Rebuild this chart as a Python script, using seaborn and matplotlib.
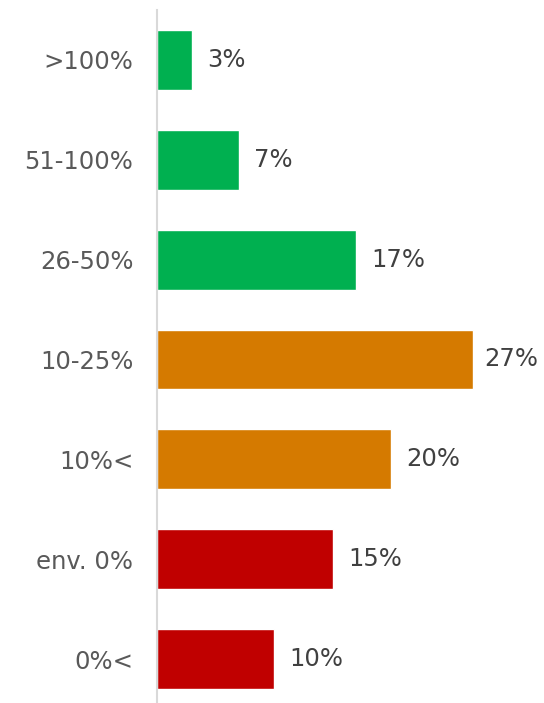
import matplotlib
matplotlib.use("Agg")
import matplotlib.pyplot as plt
import seaborn as sns
import pandas as pd

categories = [">100%", "51-100%", "26-50%", "10-25%", "10%<", "env. 0%", "0%<"]
values = [3, 7, 17, 27, 20, 15, 10]
groups = ["high", "high", "high", "mid", "mid", "low", "low"]
palette = {"high": "#00B050", "mid": "#D57A00", "low": "#C00000"}

df = pd.DataFrame({"cat": categories, "val": values, "grp": groups})

sns.set_theme(style="white")
plt.rcParams['font.family'] = ['DejaVu Sans']

W, H = 544, 703
fig = plt.figure(figsize=(W / 100, H / 100), dpi=100)
ax = fig.add_axes([157 / W, 1 - 709 / H, (W - 157) / W, 699 / H])

sns.barplot(data=df, x="val", y="cat", hue="grp", palette=palette,
            dodge=False, width=0.6, legend=False, ax=ax, saturation=1)

ax.set_xlim(0, 387 / 11.72)
ax.set_ylim(6.5, -0.5)
ax.set_xlabel("")
ax.set_ylabel("")
ax.set_xticks([])
for s in ["top", "right", "bottom"]:
    ax.spines[s].set_visible(False)
ax.spines["left"].set_color("#D9D9D9")
ax.spines["left"].set_linewidth(1.5)
ax.tick_params(axis="y", length=0, pad=17, labelsize=17.5, labelcolor="#595959")

for cont in ax.containers:
    labs = ax.bar_label(cont, labels=[f"{v:.0f}%" for v in cont.datavalues],
                        padding=11, fontsize=17.5, color="#404040")
    for t, v in zip(labs, cont.datavalues):
        if v == max(values):
            t.set_x(t.get_position()[0])
            t.xyann = (8, t.xyann[1])

fig.savefig("out.png", dpi=100)
